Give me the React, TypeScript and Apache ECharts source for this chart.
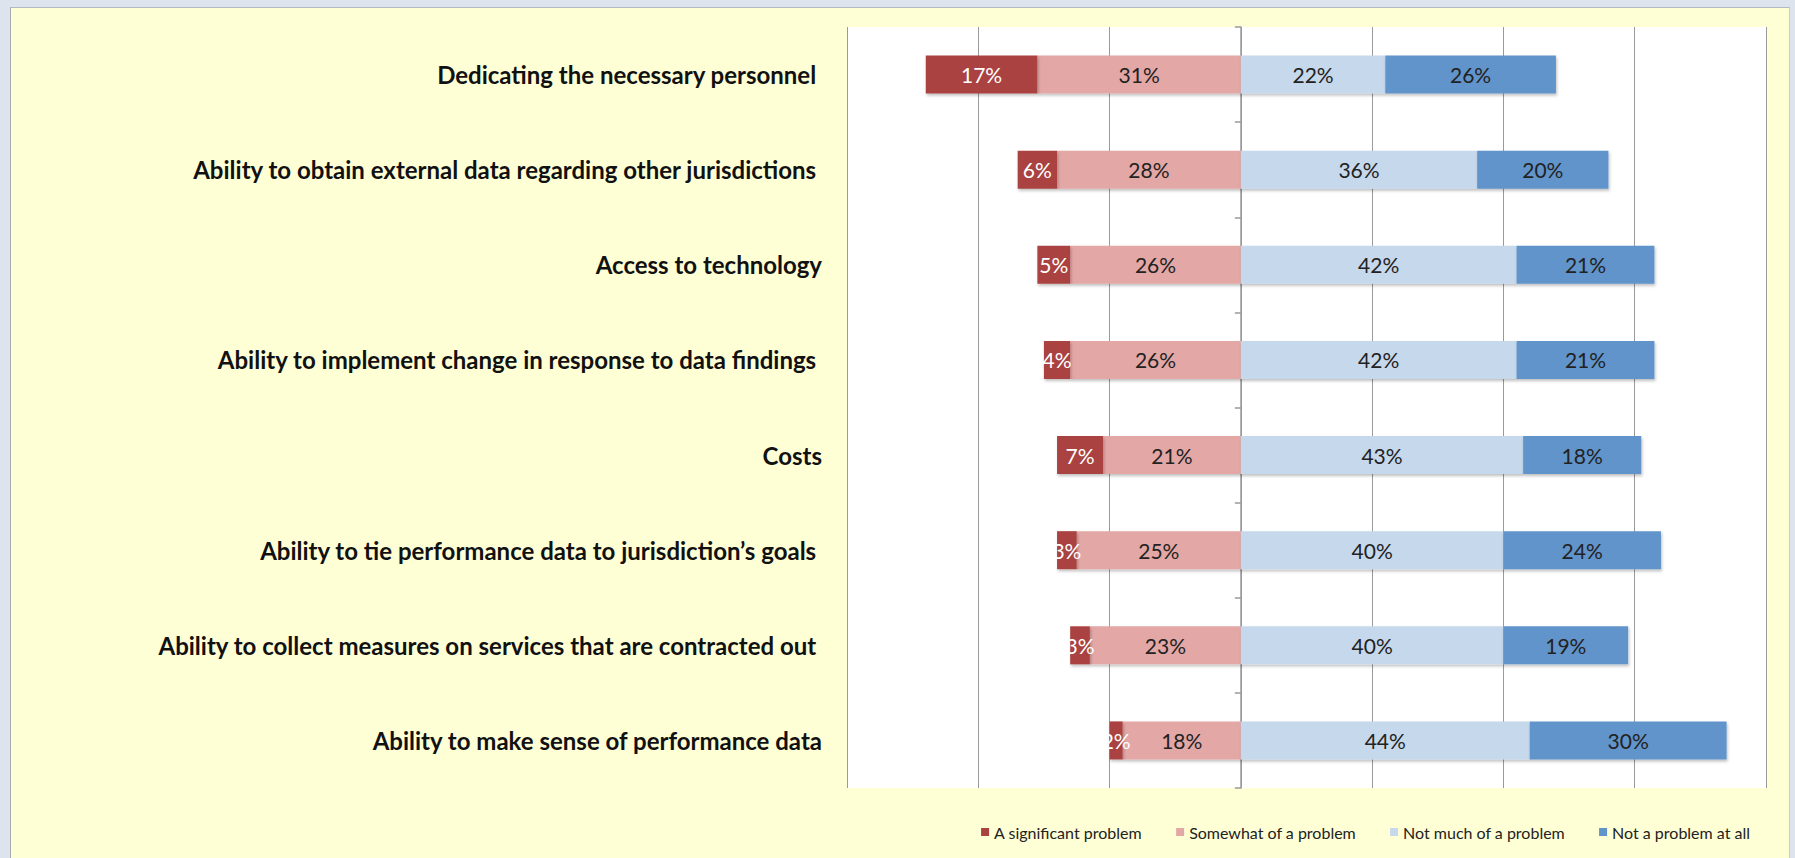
import React, { useEffect, useRef } from "react";
import * as echarts from "echarts";

const categories = [
  "Dedicating the necessary personnel ",
  "Ability to obtain external data regarding other jurisdictions ",
  "Access to technology",
  "Ability to implement change in response to data findings ",
  "Costs",
  "Ability to tie performance data to jurisdiction\u2019s goals ",
  "Ability to collect measures on services that are contracted out ",
  "Ability to make sense of performance data",
];

const seriesNames = [
  "A significant problem",
  "Somewhat of a problem",
  "Not much of a problem",
  "Not a problem at all",
];

const significant = [17, 6, 5, 4, 7, 3, 3, 2];
const somewhat = [31, 28, 26, 26, 21, 25, 23, 18];
const notMuch = [22, 36, 42, 42, 43, 40, 40, 44];
const notAtAll = [26, 20, 21, 21, 18, 24, 19, 30];

const xMin = -60;
const xMax = 80;
const xInterval = 20;

const colors = ["#A9433F", "#E3A7A6", "#C6D8EC", "#6194CB"];

export default function App() {
  const ref = useRef<HTMLDivElement>(null);

  useEffect(() => {
    document.body.style.margin = "0";
    if (!ref.current) return;
    const chart = echarts.init(ref.current, undefined, { renderer: "svg" });
    const fmt = (p: any) => Math.abs(p.value) + "%";
    const shadow = {
      shadowBlur: 3,
      shadowColor: "rgba(0,0,0,0.25)",
      shadowOffsetX: 1,
      shadowOffsetY: 2,
    };
    const labelBase = {
      show: true,
      position: "inside" as const,
      formatter: fmt,
      fontFamily: "Lato",
      fontSize: 21,
      color: "#222",
    };
    const mk = (name: string, data: number[], color: string, labelColor: string) => ({
      name,
      type: "bar",
      stack: "total",
      barWidth: "40%",
      data,
      itemStyle: { color, ...shadow },
      label: { ...labelBase, color: labelColor },
      emphasis: { disabled: true },
    });

    chart.setOption({
      animation: false,
      backgroundColor: "transparent",
      textStyle: { fontFamily: "Lato" },
      grid: {
        left: 847,
        right: 29,
        top: 27,
        bottom: 70,
        show: true,
        backgroundColor: "#ffffff",
        borderWidth: 0,
        containLabel: false,
      },
      legend: {
        data: seriesNames,
        right: 40,
        top: 819,
        icon: "rect",
        itemWidth: 8,
        itemHeight: 8,
        itemGap: 34,
        textStyle: { fontFamily: "Lato", fontSize: 16, color: "#222" },
      },
      xAxis: {
        type: "value",
        min: xMin,
        max: xMax,
        interval: xInterval,
        axisLabel: { show: false },
        axisTick: { show: false },
        axisLine: { show: false },
        splitLine: { show: true, lineStyle: { color: "#9a9a9a", width: 1 } },
      },
      yAxis: [
        {
          type: "category",
          data: categories,
          inverse: true,
          position: "left",
          axisLine: { show: false, onZero: false },
          axisTick: { show: false },
          axisLabel: {
            margin: 25,
            fontFamily: "Lato",
            fontWeight: "bold",
            fontSize: 24,
            color: "#111",
          },
        },
        {
          type: "category",
          data: categories,
          inverse: true,
          position: "right",
          axisLine: { show: true, onZero: true, lineStyle: { color: "#9a9a9a", width: 1.5 } },
          axisTick: { show: true, inside: true, length: 6, lineStyle: { color: "#9a9a9a", width: 1.5 } },
          axisLabel: { show: false },
          splitLine: { show: false },
        },
      ],
      series: [
        mk(seriesNames[1], somewhat.map((v) => -v), colors[1], "#222"),
        mk(seriesNames[0], significant.map((v) => -v), colors[0], "#ffffff"),
        mk(seriesNames[2], notMuch, colors[2], "#222"),
        mk(seriesNames[3], notAtAll, colors[3], "#222"),
      ],
    });
    return () => chart.dispose();
  }, []);

  return (
    <div style={{ position: "relative", width: 1795, height: 858, background: "#dde4ee", overflow: "hidden" }}>
      <div
        style={{
          position: "absolute",
          left: 10,
          top: 7,
          width: 1780,
          height: 860,
          background: "#ffffd6",
          borderLeft: "1px solid #a9adb3",
          borderTop: "1px solid #b5b9bf",
          borderRight: "1px solid #c9cdd3",
          boxSizing: "border-box",
        }}
      />
      <div ref={ref} style={{ position: "absolute", left: 0, top: 0, width: 1795, height: 858 }} />
    </div>
  );
}
